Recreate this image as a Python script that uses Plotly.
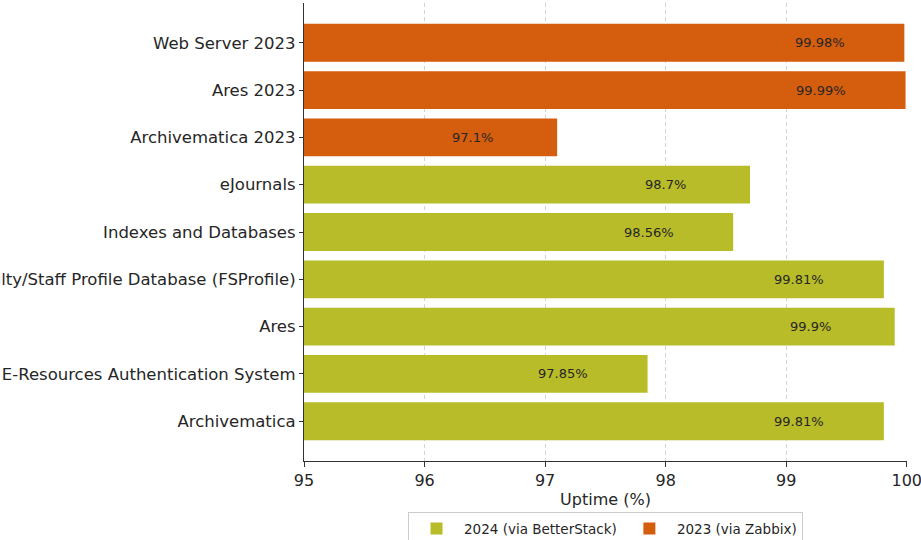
import plotly.graph_objects as go

cats_2024 = ["Archivematica", "E-Resources Authentication System", "Ares",
             "Faculty/Staff Profile Database (FSProfile)", "Indexes and Databases", "eJournals"]
vals_2024 = [99.81, 97.85, 99.9, 99.81, 98.56, 98.7]
cats_2023 = ["Archivematica 2023", "Ares 2023", "Web Server 2023"]
vals_2023 = [97.1, 99.99, 99.98]
x_ticks = [95, 96, 97, 98, 99, 100]

order = cats_2024 + cats_2023
OLIVE = "#b8bc28"
ORANGE = "#d55d0e"
FONT = "DejaVu Sans"

fig = go.Figure()
fig.add_trace(go.Bar(y=cats_2024, x=vals_2024, orientation="h", width=0.8,
                     marker=dict(color=OLIVE, line=dict(width=0)),
                     name="2024 (via BetterStack)"))
fig.add_trace(go.Bar(y=cats_2023, x=vals_2023, orientation="h", width=0.8,
                     marker=dict(color=ORANGE, line=dict(width=0)),
                     name="2023 (via Zabbix)"))

for c, v in list(zip(cats_2024, vals_2024)) + list(zip(cats_2023, vals_2023)):
    fig.add_annotation(x=v - 0.7, y=c, text=f"{v:g}%", showarrow=False,
                       font=dict(family=FONT, size=13, color="#262626"),
                       xanchor="center", yanchor="middle")

fig.update_layout(
    width=921, height=540,
    margin=dict(l=304, r=14, t=3, b=79, autoexpand=False),
    paper_bgcolor="white", plot_bgcolor="white",
    barmode="overlay",
    font=dict(family=FONT, size=16, color="#262626"),
    showlegend=True,
    legend=dict(orientation="h", x=0.5, xanchor="center", y=-0.112, yanchor="top",
                bordercolor="#cccccc", borderwidth=1, bgcolor="white",
                font=dict(family=FONT, size=13.5, color="#262626"),
                itemwidth=45, traceorder="normal"),
)
fig.update_xaxes(range=[95, 100.002], tickvals=x_ticks, ticktext=[str(t) for t in x_ticks],
                 showgrid=True, gridcolor="#d4d4d4", griddash="4px,3px", gridwidth=1,
                 showline=True, linecolor="#333333", linewidth=1.2,
                 ticks="outside", ticklen=5, tickcolor="#333333",
                 tickfont=dict(size=16), zeroline=False, automargin=False,
                 ticklabeloverflow="allow",
                 layer="above traces",
                 title=dict(text="Uptime (%)", font=dict(size=16), standoff=4))
fig.update_yaxes(type="category", categoryorder="array", categoryarray=order,
                 range=[-0.84, 8.84], showgrid=False,
                 showline=True, linecolor="#333333", linewidth=1.2,
                 ticks="outside", ticklen=4, tickcolor="#333333",
                 tickfont=dict(size=16.5), automargin=False, zeroline=False,
                 ticklabeloverflow="allow")

fig.write_html("out.html", config={"displayModeBar": False},
               post_script="document.body.style.margin='0';document.body.style.padding='0';")
